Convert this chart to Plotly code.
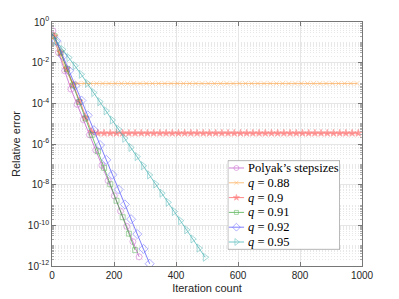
import plotly.graph_objects as go

# ---------------- data ----------------
polyak_iter = [3, 21, 41, 61, 81, 101, 121, 141, 161, 181, 201, 221, 241, 261, 281]
polyak_err = [3.63e-1, 3.16e-2, 3.98e-3, 5.01e-4, 8.91e-5, 1.58e-5, 2.82e-6, 5.01e-7,
              8.91e-8, 1.58e-8, 2.82e-9, 5.01e-10, 8.91e-11, 1.58e-11, 2.82e-12]

q088_iter = [0, 4, 24, 44, 64, 84, 104, 124, 144, 164, 184, 204, 224, 244, 264, 284, 304,
             324, 344, 364, 384, 404, 424, 444, 464, 484, 504, 524, 544, 564, 584, 604,
             624, 644, 664, 684, 704, 724, 744, 764, 784, 804, 824, 844, 864, 884, 904,
             924, 944, 964, 984]
q088_err = [2.51e-1, 1.78e-1, 2.82e-2, 4.47e-3, 1.12e-3, 9.5e-4, 9.5e-4, 9.5e-4, 9.5e-4,
            9.5e-4, 9.5e-4, 9.5e-4, 9.5e-4, 9.5e-4, 9.5e-4, 9.5e-4, 9.5e-4, 9.5e-4,
            9.5e-4, 9.5e-4, 9.5e-4, 9.5e-4, 9.5e-4, 9.5e-4, 9.5e-4, 9.5e-4, 9.5e-4,
            9.5e-4, 9.5e-4, 9.5e-4, 9.5e-4, 9.5e-4, 9.5e-4, 9.5e-4, 9.5e-4, 9.5e-4,
            9.5e-4, 9.5e-4, 9.5e-4, 9.5e-4, 9.5e-4, 9.5e-4, 9.5e-4, 9.5e-4, 9.5e-4,
            9.5e-4, 9.5e-4, 9.5e-4, 9.5e-4, 9.5e-4, 9.5e-4]

q090_iter = [0, 8, 28, 48, 68, 88, 108, 128, 148, 168, 188, 208, 228, 248, 268, 288, 308,
             328, 348, 368, 388, 408, 428, 448, 468, 488, 508, 528, 548, 568, 588, 608,
             628, 648, 668, 688, 708, 728, 748, 768, 788, 808, 828, 848, 868, 888, 908,
             928, 948, 968, 988]
q090_err = [2.51e-1, 2.00e-1, 3.16e-2, 5.01e-3, 7.94e-4, 1.26e-4, 2.00e-5, 4.0e-6,
            3.4e-6, 3.4e-6, 3.4e-6, 3.4e-6, 3.4e-6, 3.4e-6, 3.4e-6, 3.4e-6, 3.4e-6,
            3.4e-6, 3.4e-6, 3.4e-6, 3.4e-6, 3.4e-6, 3.4e-6, 3.4e-6, 3.4e-6, 3.4e-6,
            3.4e-6, 3.4e-6, 3.4e-6, 3.4e-6, 3.4e-6, 3.4e-6, 3.4e-6, 3.4e-6, 3.4e-6,
            3.4e-6, 3.4e-6, 3.4e-6, 3.4e-6, 3.4e-6, 3.4e-6, 3.4e-6, 3.4e-6, 3.4e-6,
            3.4e-6, 3.4e-6, 3.4e-6, 3.4e-6, 3.4e-6, 3.4e-6, 3.4e-6]

q091_iter = [0, 8, 28, 48, 68, 88, 108, 128, 148, 168, 188, 208, 228, 248, 268]
q091_err = [2.51e-1, 2.00e-1, 3.16e-2, 5.01e-3, 7.59e-4, 1.17e-4, 1.82e-5, 2.82e-6,
            4.37e-7, 6.76e-8, 1.05e-8, 1.62e-9, 2.51e-10, 3.89e-11, 6.03e-12]

q092_iter = [0, 15, 35, 55, 75, 95, 115, 135, 155, 175, 195, 215, 235, 255, 275, 295, 315]
q092_err = [2.51e-1, 1.15e-1, 2.14e-2, 3.98e-3, 7.41e-4, 1.38e-4, 2.57e-5, 4.79e-6,
            8.91e-7, 1.66e-7, 3.09e-8, 5.75e-9, 1.07e-9, 2.00e-10, 3.72e-11, 6.92e-12,
            1.29e-12]

q095_iter = [0, 14, 34, 54, 74, 94, 114, 134, 154, 174, 194, 214, 234, 254, 274, 294,
             314, 334, 354, 374, 394, 414, 434, 454, 474, 494]
q095_err = [2.51e-1, 1.12e-1, 4.47e-2, 1.78e-2, 7.08e-3, 2.69e-3, 9.55e-4, 3.39e-4,
            1.20e-4, 4.27e-5, 1.51e-5, 5.37e-6, 1.91e-6, 6.76e-7, 2.40e-7, 8.51e-8,
            3.02e-8, 1.07e-8, 3.80e-9, 1.35e-9, 4.79e-10, 1.70e-10, 6.03e-11, 2.14e-11,
            7.59e-12, 2.69e-12]

series_names = ["Polyak\u2019s stepsizes", "<i>q</i> = 0.88", "<i>q</i> = 0.9",
                "<i>q</i> = 0.91", "<i>q</i> = 0.92", "<i>q</i> = 0.95"]

x_ticks = [0, 200, 400, 600, 800, 1000]
y_ticks = [1e0, 1e-2, 1e-4, 1e-6, 1e-8, 1e-10, 1e-12]
y_ticklabels = ["10<sup>0</sup>", "10<sup>-2</sup>", "10<sup>-4</sup>", "10<sup>-6</sup>",
                "10<sup>-8</sup>", "10<sup>-10</sup>", "10<sup>-12</sup>"]

# ---------------- styling ----------------
series = [
    (polyak_iter, polyak_err, "#c050c8", "circle-open", 6),
    (q088_iter, q088_err, "#ffa850", "x-thin-open", 5),
    (q090_iter, q090_err, "#ff5a5a", "star", 5.5),
    (q091_iter, q091_err, "#40a840", "square-open", 5),
    (q092_iter, q092_err, "#5050ff", "diamond-open", 7),
    (q095_iter, q095_err, "#40b0b0", "triangle-right-open", 7),
]

fig = go.Figure()
for (xs, ys, col, sym, sz), name in zip(series, series_names):
    sizes = [0 if v == 0 else sz for v in xs]
    fig.add_trace(go.Scatter(
        x=xs, y=ys, mode="lines+markers", name=name, showlegend=False,
        line=dict(color=col, width=0.9),
        marker=dict(symbol=sym, size=sizes, color=col, line=dict(color=col, width=0.8)),
        opacity=0.8,
    ))

# manual legend drawn in an overlay subplot (compact rows like the reference)
n = len(series)
for i, ((xs, ys, col, sym, sz), name) in enumerate(zip(series, series_names)):
    yy = 1 - (i + 0.5) / n
    fig.add_trace(go.Scatter(
        x=[0.01, 0.077, 0.145], y=[yy, yy, yy], xaxis="x2", yaxis="y2",
        mode="lines+markers", showlegend=False, hoverinfo="skip",
        line=dict(color=col, width=0.9),
        marker=dict(symbol=sym, size=[0, sz - 1, 0], color=col, line=dict(color=col, width=0.8)),
        opacity=0.8,
    ))
    fig.add_annotation(x=0.165, y=yy, xref="x2", yref="y2", text=name, showarrow=False,
                       xanchor="left", yanchor="middle",
                       font=dict(family="Liberation Serif", size=12.5, color="#000"))

fig.add_shape(type="rect", xref="x2", yref="y2", x0=0, x1=1, y0=0, y1=1,
              fillcolor="white", line=dict(color="#555", width=0.8), layer="below")

minor_vals = []
for d in range(-12, 1):
    for k in range(1, 10):
        v = k * 10.0 ** d
        if v <= 1.0 and not (k == 1 and d % 2 == 0):
            minor_vals.append(v)

axis_font = dict(family="Liberation Sans", size=10, color="#262626")

# the page body adds an 8px offset, so the figure is 8px smaller than the window
fig.update_layout(
    template="none",
    width=391, height=291,
    margin=dict(l=44, r=37, t=14, b=33),
    paper_bgcolor="white", plot_bgcolor="white",
    xaxis=dict(
        automargin=False,
        range=[0, 1000], tickvals=x_ticks, ticktext=[str(v) for v in x_ticks],
        ticks="inside", ticklen=4, tickcolor="#777", tickwidth=0.8,
        showline=True, linecolor="#777", linewidth=0.8, mirror="ticks",
        showgrid=True, gridcolor="#e6e6e6", gridwidth=0.8, zeroline=False,
        tickfont=axis_font,
        title=dict(text="Iteration count", font=dict(family="Liberation Sans", size=11, color="#262626"),
                   standoff=4),
    ),
    yaxis=dict(
        automargin=False,
        type="log", range=[-12, 0], tickvals=y_ticks, ticktext=y_ticklabels,
        ticks="inside", ticklen=4, tickcolor="#777", tickwidth=0.8,
        showline=True, linecolor="#777", linewidth=0.8, mirror="ticks",
        showgrid=True, gridcolor="#e6e6e6", gridwidth=0.8, zeroline=False,
        tickfont=axis_font,
        minor=dict(tickvals=minor_vals, ticks="inside", ticklen=2, tickcolor="#aaa",
                   showgrid=True, gridcolor="#e8e8e8", griddash="1px,2px", gridwidth=0.7),
        title=dict(text="Relative error", font=dict(family="Liberation Sans", size=11, color="#262626"),
                   standoff=4),
    ),
    xaxis2=dict(domain=[0.567, 0.929], range=[0, 1], anchor="y2", visible=False, fixedrange=True),
    yaxis2=dict(domain=[0.068, 0.432], range=[0, 1], anchor="x2", visible=False, fixedrange=True),
)

fig.write_html("out.html")
